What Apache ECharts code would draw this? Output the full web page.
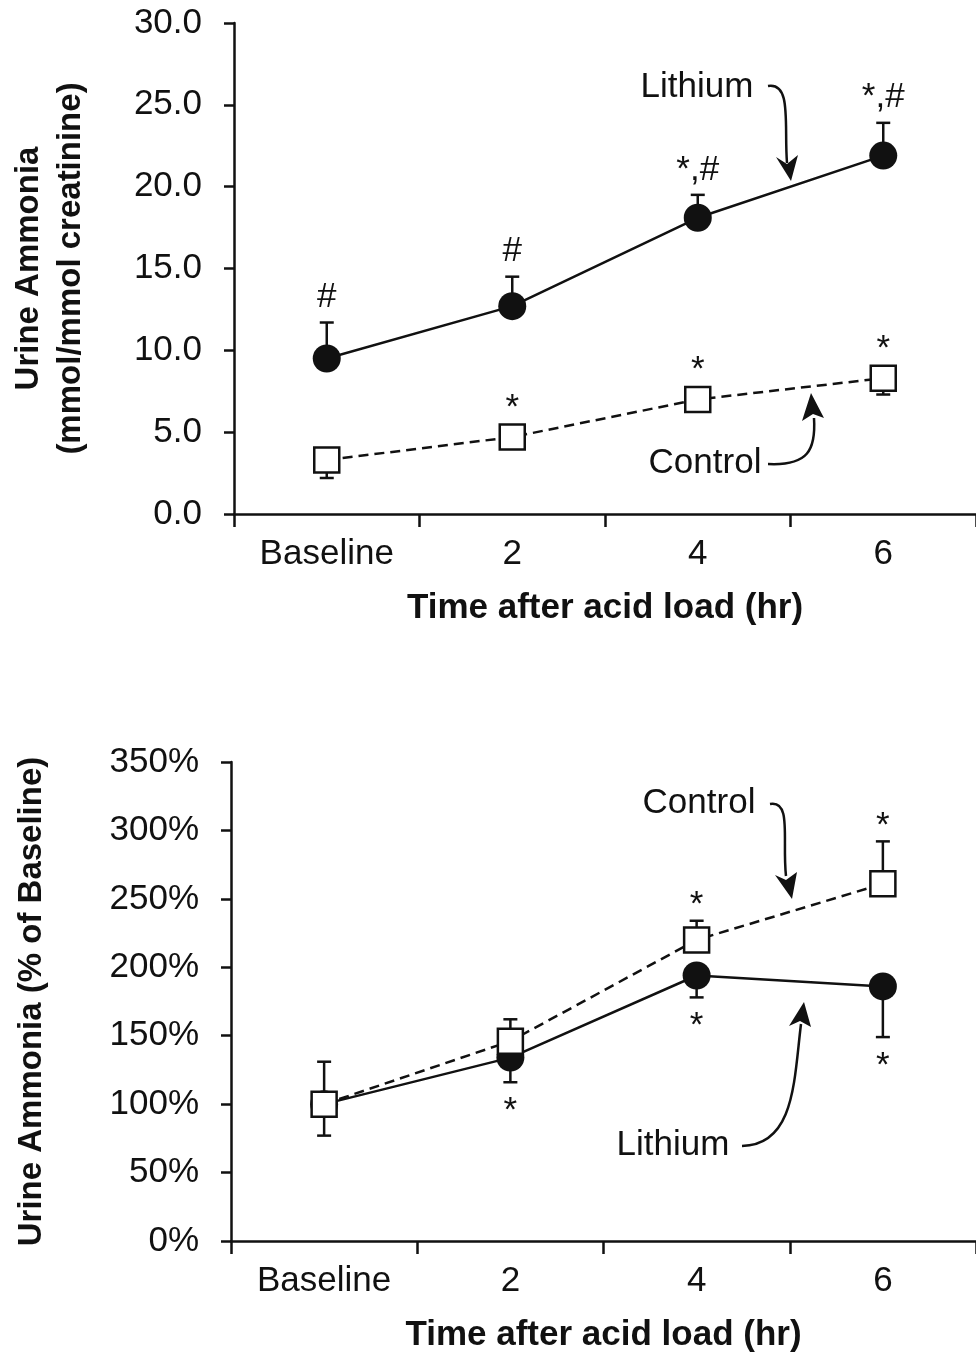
<!DOCTYPE html>
<html>
<head>
<meta charset="utf-8">
<script src="https://cdn.jsdelivr.net/npm/echarts@6/dist/echarts.min.js"></script>
<style>
  html, body { margin: 0; padding: 0; background: #fff; }
  #main { width: 976px; height: 1355px; }
</style>
</head>
<body>
<div id="main"></div>
<script>
// time points
var categories = ['Baseline', '2', '4', '6']

// top panel: mmol/mmol creatinine
var lithiumMmol = [9.5, 12.7, 18.1, 21.9]
var lithiumMmolErr = [2.2, 1.8, 1.4, 2.0]      // drawn upward
var controlMmol = [3.3, 4.7, 7.0, 8.3]
var controlMmolErr = [1.1, 0.3, 0.3, 1.0]      // drawn downward
var lithiumMmolMarks = ['#', '#', '*,#', '*,#']
var controlMmolMarks = ['', '*', '*', '*']

// bottom panel: % of baseline
var controlPct = [100, 146, 220, 261]
var controlPctErr = [31, 16, 14, 31]           // drawn upward
var lithiumPct = [100, 134, 194, 186]
var lithiumPctErr = [23, 18, 16, 37]           // drawn downward
var controlPctMarks = ['', '', '*', '*']
var lithiumPctMarks = ['', '*', '*', '*']

var FONT = 'Liberation Sans, Arial, sans-serif'
var INK = '#111'
var FS = 35

var chart = echarts.init(document.getElementById('main'))

function errorBars(idx, values, errs, dir) {
  return {
    type: 'custom',
    xAxisIndex: idx,
    yAxisIndex: idx,
    z: 1,
    silent: true,
    data: values.map(function(v, i) { return [i, v, v + dir * errs[i]] }),
    renderItem: function(params, api) {
      var p0 = api.coord([api.value(0), api.value(1)])
      var p1 = api.coord([api.value(0), api.value(2)])
      var st = { stroke: INK, lineWidth: 2.5 }
      return {
        type: 'group',
        children: [
          { type: 'line', shape: { x1: p0[0], y1: p0[1], x2: p1[0], y2: p1[1] }, style: st },
          { type: 'line', shape: { x1: p1[0] - 7, y1: p1[1], x2: p1[0] + 7, y2: p1[1] }, style: st }
        ]
      }
    }
  }
}

// significance marks, placed relative to a value (px offset)
function marks(idx, anchors, texts, dy) {
  return {
    type: 'custom',
    xAxisIndex: idx,
    yAxisIndex: idx,
    z: 5,
    silent: true,
    data: anchors.map(function(v, i) { return [i, v, texts[i]] }),
    renderItem: function(params, api) {
      var p = api.coord([api.value(0), api.value(1)])
      var t = texts[params.dataIndex]
      if (!t) return
      return {
        type: 'text',
        x: p[0],
        y: p[1] + dy,
        style: {
          text: t,
          font: FS + 'px ' + FONT, fill: INK,
          align: 'center', verticalAlign: 'middle'
        }
      }
    }
  }
}

function lineSeries(idx, name, data, isControl) {
  return {
    name: name,
    type: 'line',
    xAxisIndex: idx,
    yAxisIndex: idx,
    data: data,
    z: 3,
    symbol: isControl ? 'rect' : 'circle',
    symbolSize: isControl ? 25 : 28,
    lineStyle: { color: INK, width: 2.5, type: isControl ? [10, 6] : 'solid' },
    itemStyle: isControl
      ? { color: '#fff', borderColor: INK, borderWidth: 2.5 }
      : { color: INK, borderColor: INK, borderWidth: 0 },
    animation: false
  }
}

function xAxis(idx) {
  return {
    type: 'category',
    gridIndex: idx,
    data: categories,
    boundaryGap: true,
    axisLine: { lineStyle: { color: INK, width: 2.5 } },
    axisTick: { show: true, inside: false, length: 13, lineStyle: { color: INK, width: 2.5 } },
    axisLabel: { color: INK, fontFamily: FONT, fontSize: FS, margin: 23 },
    name: 'Time after acid load (hr)',
    nameLocation: 'middle',
    nameGap: 77,
    nameTextStyle: { color: INK, fontFamily: FONT, fontSize: FS, fontWeight: 'bold' }
  }
}

function textEl(txt, x, y) {
  return { type: 'text', x: x, y: y, style: { text: txt, font: FS + 'px ' + FONT, fill: INK, align: 'center', verticalAlign: 'middle' } }
}
function curve(pts) {
  return {
    type: 'bezierCurve',
    shape: { x1: pts[0], y1: pts[1], cpx1: pts[2], cpy1: pts[3], cpx2: pts[4], cpy2: pts[5], x2: pts[6], y2: pts[7] },
    style: { stroke: INK, lineWidth: 2.5, fill: null }
  }
}
function head(pts) {
  return { type: 'polygon', shape: { points: pts }, style: { fill: INK } }
}

var option = {
  backgroundColor: '#fff',
  animation: false,
  grid: [
    { left: 231, top: 23, width: 748, height: 491, containLabel: false },
    { left: 231, top: 762, width: 748, height: 479, containLabel: false }
  ],
  xAxis: [xAxis(0), xAxis(1)],
  yAxis: [
    {
      type: 'value', gridIndex: 0, min: 0, max: 30, interval: 5,
      splitLine: { show: false },
      axisLine: { show: true, lineStyle: { color: INK, width: 2.5 } },
      axisTick: { show: true, length: 10, lineStyle: { color: INK, width: 2.5 } },
      axisLabel: { color: INK, fontFamily: FONT, fontSize: FS, margin: 32, formatter: function(v) { return v.toFixed(1) } },
      name: 'Urine Ammonia\n(mmol/mmol creatinine)',
      nameLocation: 'middle',
      nameGap: 142,
      nameTextStyle: { color: INK, fontFamily: FONT, fontSize: 33, fontWeight: 'bold', lineHeight: 42 }
    },
    {
      type: 'value', gridIndex: 1, min: 0, max: 350, interval: 50,
      splitLine: { show: false },
      axisLine: { show: true, lineStyle: { color: INK, width: 2.5 } },
      axisTick: { show: true, length: 10, lineStyle: { color: INK, width: 2.5 } },
      axisLabel: { color: INK, fontFamily: FONT, fontSize: FS, margin: 32, formatter: function(v) { return v + '%' } },
      name: 'Urine Ammonia (% of Baseline)',
      nameLocation: 'middle',
      nameGap: 183,
      nameTextStyle: { color: INK, fontFamily: FONT, fontSize: 33, fontWeight: 'bold' }
    }
  ],
  graphic: [
    textEl('Lithium', 697, 87),
    curve([768, 86, 792, 82, 784, 125, 787, 163]),
    head([[791, 181], [776, 157], [787, 164], [798, 155]]),
    textEl('Control', 705, 463),
    curve([768, 464, 808, 466, 816, 450, 814, 418]),
    head([[811, 393], [802, 421], [813, 414], [824, 418]]),
    textEl('Control', 699, 803),
    curve([770, 804, 792, 800, 782, 840, 786, 876]),
    head([[792, 899], [775, 875], [786, 880], [797, 872]]),
    textEl('Lithium', 673, 1145),
    curve([742, 1146, 795, 1145, 794, 1080, 801, 1024]),
    head([[804, 1002], [789, 1026], [800, 1021], [811, 1027]])
  ],
  series: [
    errorBars(0, lithiumMmol, lithiumMmolErr, 1),
    errorBars(0, controlMmol, controlMmolErr, -1),
    lineSeries(0, 'Lithium', lithiumMmol, false),
    lineSeries(0, 'Control', controlMmol, true),
    marks(0, lithiumMmol.map(function(v, i) { return v + lithiumMmolErr[i] }), lithiumMmolMarks, -25),
    marks(0, controlMmol, controlMmolMarks, -29),

    errorBars(1, lithiumPct, lithiumPctErr, -1),
    errorBars(1, controlPct, controlPctErr, 1),
    lineSeries(1, 'Lithium', lithiumPct, false),
    lineSeries(1, 'Control', controlPct, true),
    marks(1, controlPct.map(function(v, i) { return v + controlPctErr[i] }), controlPctMarks, -15),
    marks(1, lithiumPct.map(function(v, i) { return v - lithiumPctErr[i] }), lithiumPctMarks, 29)
  ]
}

chart.setOption(option)
</script>
</body>
</html>
